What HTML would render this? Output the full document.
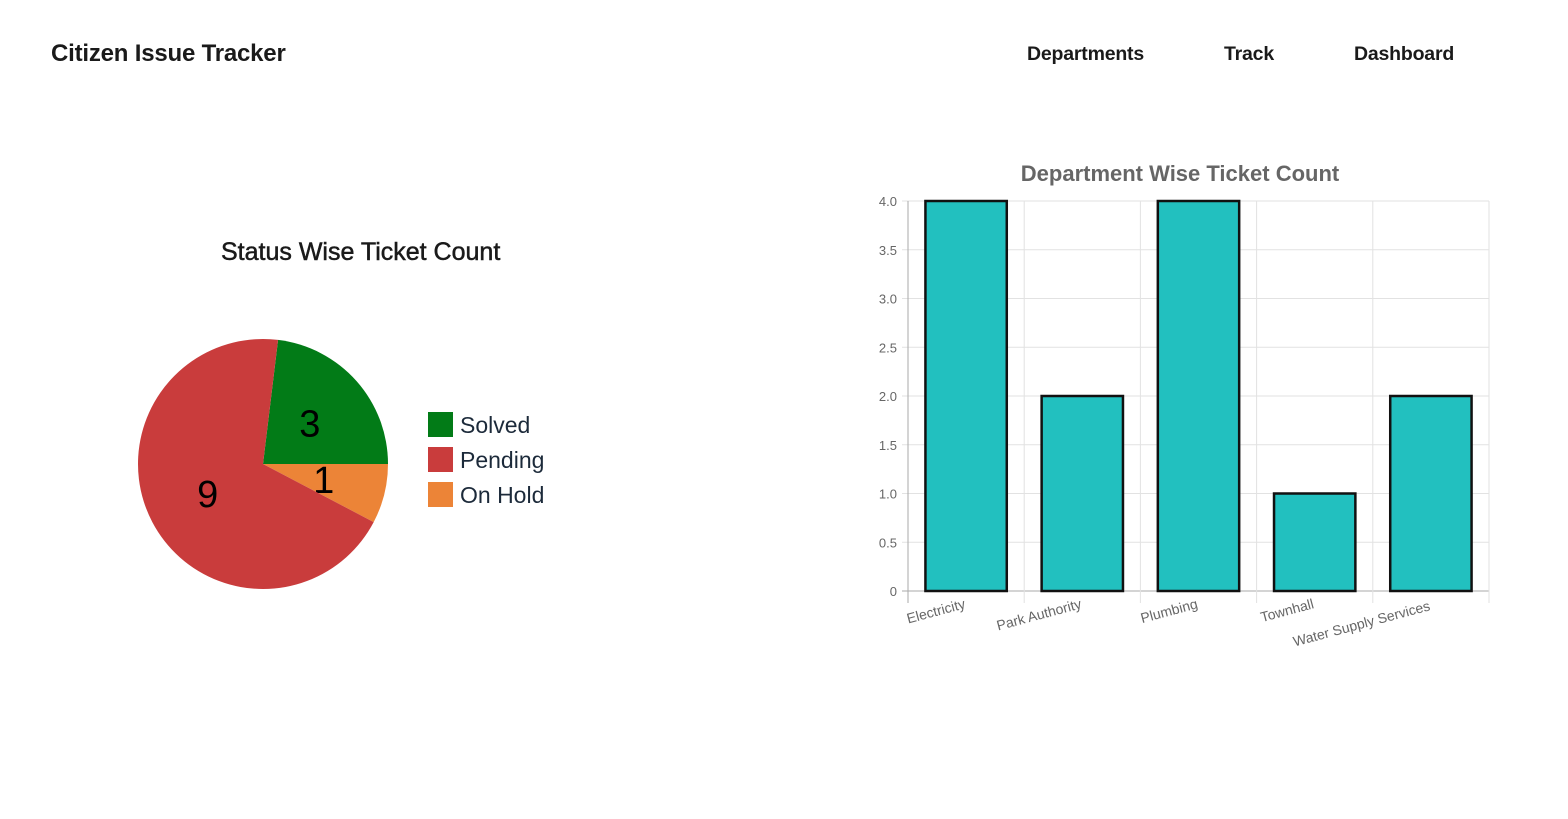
<!DOCTYPE html>
<html><head><meta charset="utf-8"><style>
body{margin:0;width:1568px;height:819px;background:#fff;font-family:"Liberation Sans",sans-serif;position:relative;overflow:hidden}
.t{position:absolute;white-space:nowrap;color:#1a1a1a;font-weight:bold}
</style></head><body>
<div class="t" style="left:51px;top:40px;font-size:24px;letter-spacing:-0.2px">Citizen Issue Tracker</div>
<div class="t" style="left:1027px;top:43px;font-size:19.5px;letter-spacing:-0.2px">Departments</div>
<div class="t" style="left:1224px;top:43px;font-size:19.5px;letter-spacing:-0.2px">Track</div>
<div class="t" style="left:1354px;top:43px;font-size:19.5px;letter-spacing:-0.2px">Dashboard</div>
<div class="t" style="left:221px;top:238px;font-size:25px;letter-spacing:0px;font-weight:normal;-webkit-text-stroke:0.5px #1a1a1a">Status Wise Ticket Count</div>
<svg id="pie" width="600" height="819" style="position:absolute;left:0;top:0"></svg>
<svg id="bar" width="1568" height="819" style="position:absolute;left:0;top:0;pointer-events:none"></svg>
<script>
const pieLabels=["Solved","On Hold","Pending"];
const pieValues=[3,1,9];
const pieColors=["#027b17","#ec8437","#c93c3c"];
const legendOrder=[0,2,1];
const barCategories=["Electricity","Park Authority","Plumbing","Townhall","Water Supply Services"];
const barValues=[4,2,4,1,2];
const yTicks=[0,0.5,1.0,1.5,2.0,2.5,3.0,3.5,4.0];
const yTickLabels=["0","0.5","1.0","1.5","2.0","2.5","3.0","3.5","4.0"];
const NS="http://www.w3.org/2000/svg";
function mk(p,tag,at){const e=document.createElementNS(NS,tag);for(const k in at)e.setAttribute(k,at[k]);p.appendChild(e);return e;}
// pie
const pie=document.getElementById('pie');
const cx=263,cy=464,r=125,total=pieValues.reduce((a,b)=>a+b,0);
let a0=-Math.PI*2*pieValues[0]/total;
pieValues.forEach((v,i)=>{
 const a1=a0+v/total*Math.PI*2;
 const large=(a1-a0)>Math.PI?1:0;
 const p=mk(pie,'path',{d:`M${cx},${cy}L${cx+r*Math.cos(a0)},${cy+r*Math.sin(a0)}A${r},${r} 0 ${large} 1 ${cx+r*Math.cos(a1)},${cy+r*Math.sin(a1)}Z`,fill:pieColors[i]});
 
 
 const am=(a0+a1)/2,lr=r*0.5;
 const t=mk(pie,'text',{x:cx+lr*Math.cos(am),y:cy+lr*Math.sin(am)+14,'text-anchor':'middle','font-size':38,fill:'#000'});
 t.textContent=v;
 
 
 a0=a1;
});
legendOrder.forEach((i,k)=>{
 const y=412+k*35;
 const g=mk(pie,'g',{});
 
 
 mk(g,'rect',{x:428,y:y,width:25,height:25,fill:pieColors[i]});
 const t=mk(g,'text',{x:460,y:y+21,'font-size':23,fill:'#1c2a3a'});t.textContent=pieLabels[i];
});
// bar
const bar=document.getElementById('bar');
const X0=908,X1=1489,Y0=591,Y1=201,ymax=4;
const yS=v=>Y0-(v/ymax)*(Y0-Y1);
const cw=(X1-X0)/barCategories.length;
const tt=mk(bar,'text',{x:1180,y:181,'text-anchor':'middle','font-size':22,'font-weight':'bold',fill:'#666'});tt.textContent="Department Wise Ticket Count";


yTicks.forEach((v,i)=>{
 const y=yS(v);
 mk(bar,'line',{x1:X0-6,x2:X1,y1:y,y2:y,stroke:i==0?'#aaa':'#e2e2e2','stroke-width':1});
 const t=mk(bar,'text',{x:897,y:y+5,'text-anchor':'end','font-size':13,fill:'#666'});t.textContent=yTickLabels[i];
 
 
});
for(let i=0;i<=barCategories.length;i++){
 const x=X0+i*cw;
 mk(bar,'line',{x1:x,x2:x,y1:Y1,y2:Y0+12,stroke:i==0?'#aaa':'#e2e2e2','stroke-width':1});
}
barCategories.forEach((c,i)=>{
 const xc=X0+cw*(i+0.5),bw=cw*0.7;
 const rc=mk(bar,'rect',{x:xc-bw/2,y:yS(barValues[i]),width:bw,height:Y0-yS(barValues[i]),fill:'#22c0bf',stroke:'#111','stroke-width':2.5});
 
 
 const lx=X0+cw*i+cw*0.5, ly=608+(i==4?2:0);
 const t=mk(bar,'text',{x:lx,y:ly,'text-anchor':'end','font-size':14,fill:'#666',transform:`rotate(-15 ${lx} ${ly})`});
 t.textContent=c;
 
 
});
</script>
</body></html>
